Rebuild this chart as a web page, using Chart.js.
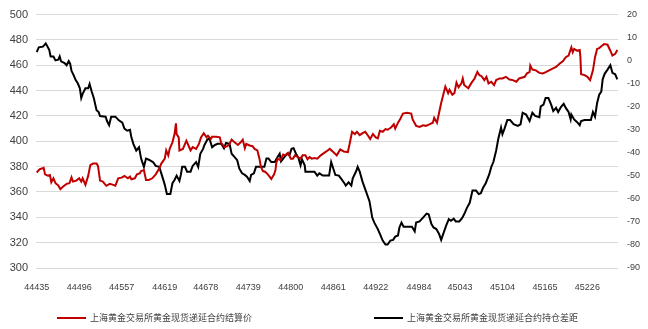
<!DOCTYPE html>
<html>
<head>
<meta charset="utf-8">
<script src="https://cdn.jsdelivr.net/npm/chart.js"></script>
<style>
  body { margin: 0; background: #fff; }
  #wrap { position: relative; width: 648px; height: 329px; }
  .legend-item { position: absolute; top: 311px; height: 14px; font: 9px "Noto Sans CJK SC", "Liberation Sans", sans-serif; color: #404040; white-space: nowrap; }
  .legend-item span.line { position: absolute; top: 6px; height: 2px; width: 29px; }
  .legend-item span.text { position: absolute; left: 33px; top: 0; line-height: 14px; }
</style>
</head>
<body>
<div id="wrap">
  <canvas id="chart" width="648" height="329"></canvas>
  <div class="legend-item" style="left:57px"><span class="line" style="background:#c00000"></span><span class="text">上海黄金交易所黄金现货递延合约结算价</span></div>
  <div class="legend-item" style="left:374px"><span class="line" style="background:#000"></span><span class="text">上海黄金交易所黄金现货递延合约持仓差距</span></div>
</div>
<script>
// x axis tick labels (excel date serials)
const xLabels = [44435, 44496, 44557, 44619, 44678, 44739, 44800, 44861, 44922, 44984, 45043, 45104, 45165, 45226];

// settlement price (left axis)
const priceDates = [
  44435, 44439, 44445, 44447, 44451, 44454, 44456, 44459, 44462, 44466, 44469, 44473, 44478, 44482, 44485, 44487,
  44492, 44496, 44499, 44501, 44505, 44509, 44512, 44516, 44521, 44523, 44526, 44530, 44535, 44540, 44545, 44548,
  44552, 44557, 44561, 44566, 44569, 44571, 44576, 44579, 44583, 44585, 44589, 44592, 44596, 44601, 44606, 44611,
  44614, 44619, 44621, 44624, 44626, 44630, 44633, 44635, 44636, 44639, 44640, 44645, 44650, 44653, 44656, 44659,
  44664, 44668, 44671, 44675, 44679, 44681, 44685, 44687, 44693, 44698, 44700, 44705, 44709, 44712, 44715, 44718,
  44724, 44728, 44731, 44734, 44736, 44741, 44745, 44748, 44752, 44755, 44757, 44760, 44763, 44767, 44772, 44776,
  44778, 44779, 44781, 44785, 44789, 44792, 44796, 44800, 44803, 44806, 44810, 44814, 44817, 44821, 44824, 44827,
  44830, 44834, 44838, 44843, 44846, 44851, 44856, 44861, 44866, 44871, 44876, 44882, 44885, 44888, 44892, 44895,
  44899, 44903, 44907, 44911, 44914, 44918, 44922, 44925, 44928, 44932, 44936, 44939, 44944, 44948, 44950, 44954,
  44957, 44961, 44967, 44973, 44975, 44980, 44985, 44990, 44994, 44999, 45004, 45006, 45010, 45013, 45016, 45019,
  45022, 45026, 45028, 45032, 45035, 45038, 45041, 45045, 45047, 45049, 45055, 45059, 45064, 45068, 45071, 45074,
  45078, 45081, 45084, 45088, 45092, 45095, 45100, 45104, 45109, 45114, 45119, 45124, 45128, 45136, 45139, 45143,
  45144, 45147, 45152, 45157, 45162, 45167, 45171, 45176, 45181, 45186, 45191, 45195, 45199, 45203, 45205, 45207,
  45211, 45215, 45216, 45217, 45222, 45226, 45230, 45234, 45237, 45240, 45243, 45247, 45250, 45255, 45259, 45262,
  45266, 45269
];
const priceValues = [
  375.4, 377.8, 379.1, 373.9, 372.9, 373.4, 367.7, 370.8, 366.9, 365.1, 362.2, 364.3, 366.4, 366.9, 371.5, 368.2,
  369.0, 370.8, 368.2, 370.8, 365.6, 372.9, 381.2, 382.4, 382.4, 380.6, 369.0, 368.2, 364.9, 366.4, 365.6, 364.9,
  370.8, 371.3, 372.6, 370.8, 372.1, 370.0, 370.8, 373.9, 374.7, 376.5, 377.3, 369.5, 369.5, 370.8, 373.9, 378.5,
  382.4, 386.3, 392.8, 388.9, 394.0, 399.2, 405.7, 414.2, 405.7, 403.1, 392.8, 394.0, 400.5, 396.7, 392.8, 395.4,
  394.0, 397.9, 403.1, 406.4, 403.1, 404.4, 401.8, 403.6, 403.6, 403.1, 398.7, 395.4, 396.1, 397.9, 401.3, 399.8,
  397.1, 399.2, 401.3, 394.6, 397.9, 396.7, 396.1, 394.0, 392.8, 386.3, 379.8, 376.5, 376.0, 373.9, 370.3, 373.9,
  377.3, 382.4, 386.3, 385.1, 389.5, 388.9, 390.9, 386.3, 386.3, 388.9, 387.6, 386.3, 388.9, 388.9, 385.8, 387.6,
  386.3, 386.8, 386.3, 388.9, 390.1, 392.0, 394.0, 391.5, 388.9, 393.6, 392.0, 391.5, 399.2, 407.5, 405.7, 407.5,
  404.9, 406.4, 407.5, 404.4, 401.8, 405.7, 403.1, 402.3, 408.3, 407.5, 409.6, 409.1, 410.9, 413.4, 410.1, 414.7,
  417.3, 421.9, 422.5, 421.9, 417.3, 412.2, 411.4, 412.6, 412.2, 413.4, 414.7, 418.6, 414.7, 422.5, 430.2, 436.7,
  443.2, 438.0, 440.6, 436.7, 438.0, 446.3, 442.6, 445.7, 449.6, 444.4, 441.9, 445.7, 449.6, 454.8, 452.2, 451.4,
  448.3, 450.9, 445.7, 447.0, 444.4, 448.3, 449.6, 449.6, 450.9, 448.8, 448.3, 447.0, 449.6, 450.9, 453.5, 454.8,
  459.9, 456.6, 456.0, 454.0, 453.5, 454.8, 456.0, 457.4, 458.7, 461.2, 463.3, 466.4, 467.7, 474.2, 470.3, 472.9,
  471.5, 472.1, 466.4, 453.0, 452.2, 450.9, 448.3, 456.0, 466.4, 472.9, 473.6, 475.4, 476.7, 476.2, 471.5, 467.7,
  469.0, 472.1
];

// position difference (right axis)
const posDates = [
  44435, 44438, 44444, 44448, 44453, 44455, 44459, 44462, 44466, 44468, 44470, 44475, 44478, 44481, 44483, 44485,
  44488, 44491, 44494, 44497, 44499, 44501, 44505, 44509, 44511, 44514, 44517, 44521, 44524, 44526, 44534, 44536,
  44539, 44542, 44548, 44553, 44558, 44561, 44565, 44569, 44571, 44574, 44578, 44582, 44585, 44589, 44592, 44596,
  44602, 44606, 44611, 44615, 44619, 44622, 44627, 44630, 44633, 44636, 44640, 44642, 44644, 44648, 44651, 44656,
  44659, 44664, 44667, 44670, 44674, 44676, 44680, 44683, 44687, 44691, 44695, 44700, 44704, 44707, 44712, 44715,
  44719, 44723, 44726, 44730, 44734, 44737, 44741, 44743, 44747, 44750, 44757, 44762, 44765, 44768, 44772, 44777,
  44781, 44784, 44786, 44791, 44795, 44798, 44801, 44804, 44808, 44811, 44814, 44816, 44820, 44821, 44829, 44834,
  44838, 44841, 44846, 44855, 44858, 44861, 44864, 44869, 44872, 44877, 44879, 44883, 44887, 44889, 44894, 44896,
  44899, 44903, 44908, 44913, 44917, 44920, 44925, 44928, 44932, 44936, 44939, 44943, 44947, 44950, 44954, 44956,
  44959, 44962, 44968, 44974, 44978, 44980, 44985, 44990, 44995, 44998, 45002, 45005, 45009, 45013, 45016, 45019,
  45023, 45027, 45030, 45034, 45037, 45042, 45046, 45049, 45053, 45057, 45061, 45066, 45070, 45073, 45076, 45080,
  45085, 45088, 45091, 45095, 45098, 45102, 45104, 45107, 45111, 45115, 45120, 45126, 45130, 45133, 45138, 45143,
  45147, 45151, 45157, 45159, 45163, 45166, 45170, 45174, 45177, 45181, 45184, 45188, 45192, 45195, 45199, 45202,
  45203, 45207, 45211, 45215, 45217, 45222, 45226, 45231, 45234, 45237, 45240, 45243, 45246, 45248, 45251, 45255,
  45259, 45262, 45266, 45269
];
const posValues = [
  3.7, 5.8, 6.1, 7.5, 4.7, 1.8, 1.8, 0.1, 0.4, 1.8, -0.3, -1.0, -2.0, -0.2, -1.3, -4.4,
  -6.3, -8.4, -9.8, -12.0, -16.2, -14.4, -12.0, -12.0, -10.1, -13.4, -16.2, -21.5, -22.3, -24.0, -24.3, -26.2,
  -28.0, -24.3, -24.3, -25.9, -26.9, -29.5, -30.4, -30.0, -33.3, -36.2, -39.0, -37.6, -42.5, -46.1, -42.5, -43.0,
  -44.0, -45.7, -46.1, -49.9, -53.9, -57.9, -57.9, -53.2, -51.8, -49.9, -52.2, -49.6, -46.1, -46.1, -48.2, -48.2,
  -45.7, -44.0, -46.1, -40.4, -38.3, -36.6, -34.3, -33.7, -37.6, -36.6, -36.1, -36.1, -38.0, -35.7, -36.1, -40.4,
  -41.8, -43.2, -46.8, -48.9, -49.6, -50.4, -52.2, -49.6, -48.9, -46.1, -46.1, -46.1, -42.5, -42.5, -44.0, -44.0,
  -41.8, -40.4, -43.7, -41.8, -40.4, -41.1, -38.3, -38.0, -40.8, -42.2, -45.4, -42.8, -45.4, -48.2, -48.2, -48.2,
  -49.9, -48.9, -49.9, -49.9, -44.0, -46.8, -49.6, -49.9, -51.1, -53.2, -54.2, -52.8, -54.2, -51.1, -47.9, -46.1,
  -48.2, -52.5, -56.7, -61.0, -68.1, -70.3, -73.1, -75.2, -78.1, -79.8, -79.8, -78.1, -77.8, -76.4, -75.9, -72.4,
  -70.3, -72.1, -72.1, -72.1, -74.1, -70.3, -69.8, -68.1, -66.4, -66.7, -70.9, -72.4, -73.1, -75.2, -77.8, -75.2,
  -71.7, -68.8, -69.5, -68.6, -69.8, -69.8, -68.4, -66.7, -63.9, -61.7, -56.4, -56.4, -57.9, -57.5, -55.3, -53.2,
  -49.4, -46.1, -44.0, -39.0, -34.0, -29.0, -31.9, -29.5, -25.8, -25.8, -27.6, -28.3, -27.6, -22.6, -23.4, -26.2,
  -22.6, -24.0, -24.5, -19.8, -19.1, -16.2, -16.2, -19.1, -21.9, -20.5, -22.3, -20.1, -18.7, -20.5, -22.3, -25.5,
  -23.4, -25.5, -26.6, -28.0, -26.2, -25.8, -25.8, -25.8, -22.3, -24.3, -18.4, -14.8, -13.4, -8.1, -5.6, -3.9,
  -2.0, -5.3, -5.9, -8.1
];

const tickColor = "#404040";
const axisFont = { family: "Liberation Sans, Arial, sans-serif", size: 11 };

new Chart(document.getElementById("chart"), {
  type: "line",
  data: {
    datasets: [
      {
        label: "上海黄金交易所黄金现货递延合约结算价",
        data: priceDates.map((d, i) => ({ x: d, y: priceValues[i] })),
        borderColor: "#c00000",
        borderWidth: 2,
        pointRadius: 0,
        tension: 0,
        yAxisID: "y"
      },
      {
        label: "上海黄金交易所黄金现货递延合约持仓差距",
        data: posDates.map((d, i) => ({ x: d, y: posValues[i] })),
        borderColor: "#000000",
        borderWidth: 2,
        pointRadius: 0,
        tension: 0,
        yAxisID: "y2"
      }
    ]
  },
  options: {
    responsive: false,
    animation: false,
    devicePixelRatio: 1,
    layout: { padding: { top: 10, bottom: 0, left: 0, right: 0 } },
    plugins: {
      legend: { display: false },
      tooltip: { enabled: false }
    },
    scales: {
      x: {
        type: "linear",
        min: 44434,
        max: 45270,
        grid: { display: false },
        border: { display: false },
        afterBuildTicks: axis => {
          axis.ticks = xLabels.map(v => ({ value: v }));
        },
        afterFit: axis => { axis.height = 61; },
        ticks: {
          autoSkip: false,
          maxRotation: 0,
          padding: 6,
          color: tickColor,
          font: { family: "Liberation Sans, Arial, sans-serif", size: 9 },
          callback: v => String(v)
        }
      },
      y: {
        position: "left",
        min: 300,
        max: 500,
        grid: { color: "#d9d9d9", lineWidth: 1, drawTicks: false },
        border: { display: false },
        afterFit: axis => { axis.width = 36; },
        ticks: {
          stepSize: 20,
          padding: 8,
          color: tickColor,
          font: axisFont
        }
      },
      y2: {
        position: "right",
        min: -90,
        max: 20,
        grid: { display: false, drawTicks: false },
        border: { display: false },
        afterFit: axis => { axis.width = 30; },
        ticks: {
          stepSize: 10,
          padding: 9,
          color: tickColor,
          font: { family: "Liberation Sans, Arial, sans-serif", size: 9 }
        }
      }
    }
  }
});
</script>
</body>
</html>
